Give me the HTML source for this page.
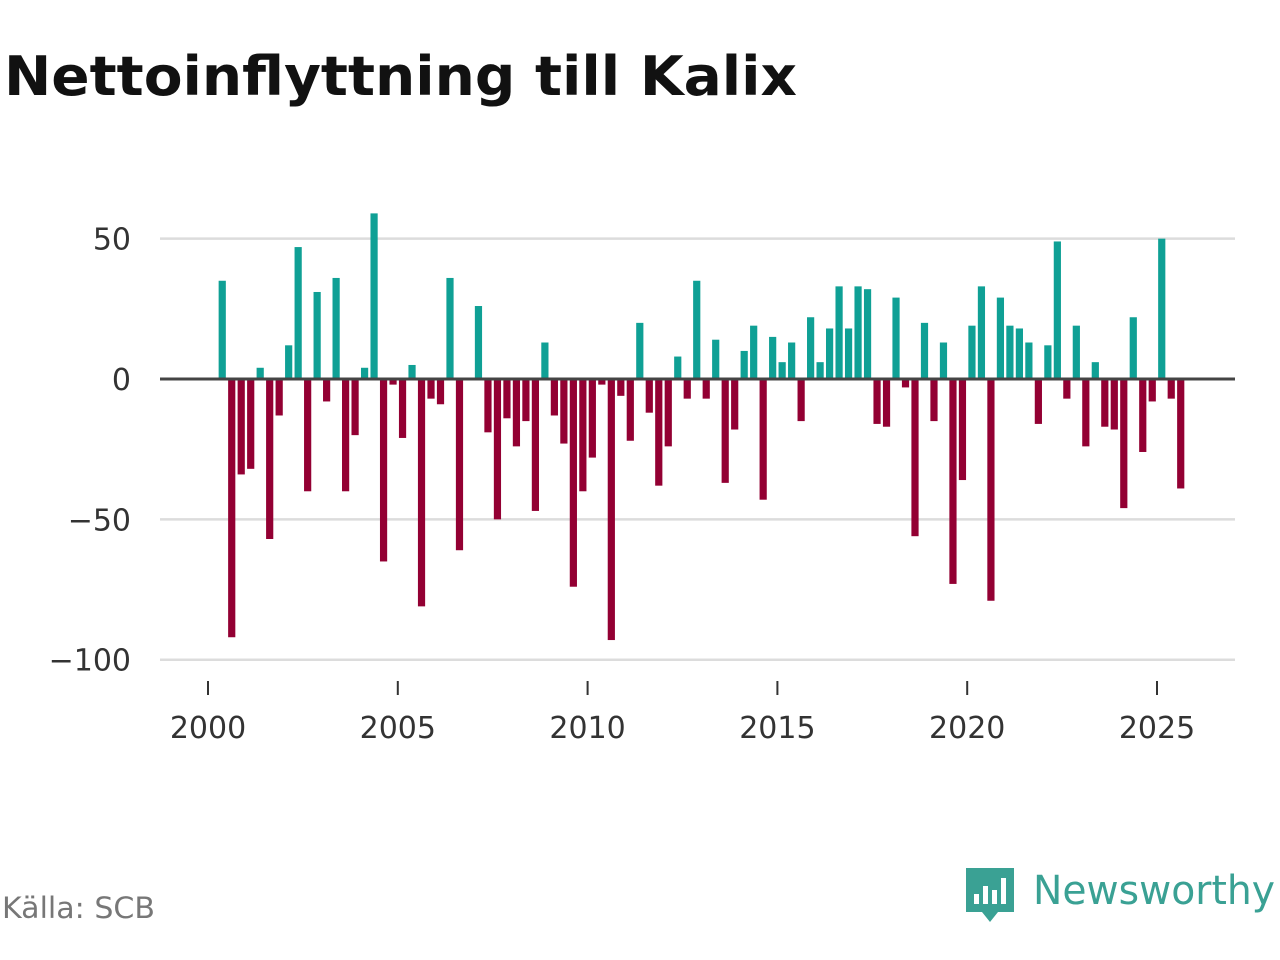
<!DOCTYPE html>
<html><head><meta charset="utf-8"><style>
body{margin:0;background:#fff;font-family:"DejaVu Sans","Liberation Sans",sans-serif;}
#wrap{position:relative;width:1280px;height:960px;overflow:hidden;}
</style></head><body>
<div id="wrap">
<svg width="1280" height="960">
<text x="4" y="95" font-size="54" font-weight="bold" fill="#111" textLength="793" lengthAdjust="spacingAndGlyphs">Nettoinflyttning till Kalix</text>
<g id="grid"></g><g id="bars"></g><g id="axes"></g>
<text x="2" y="918" font-size="29" fill="#777" textLength="153" lengthAdjust="spacingAndGlyphs">Källa: SCB</text>
<g>
<path d="M966 868 h48 v44 h-16 l-8 10 l-8 -10 h-16 z" fill="#3aa194"/>
<rect x="974" y="894" width="5" height="10" fill="#fff"/><rect x="983" y="886" width="5" height="18" fill="#fff"/><rect x="992" y="890" width="5" height="14" fill="#fff"/><rect x="1001" y="878" width="5" height="26" fill="#fff"/>
<text x="1033" y="904" font-size="40" fill="#3aa194" textLength="242" lengthAdjust="spacingAndGlyphs">Newsworthy</text>
</g>
</svg>
</div>
<script>
const startYear = 2000.375;
const values = [35,-92,-34,-32,4,-57,-13,12,47,-40,31,-8,36,-40,-20,4,59,-65,-2,-21,5,-81,-7,-9,36,-61,0,26,-19,-50,-14,-24,-15,-47,13,-13,-23,-74,-40,-28,-2,-93,-6,-22,20,-12,-38,-24,8,-7,35,-7,14,-37,-18,10,19,-43,15,6,13,-15,22,6,18,33,18,33,32,-16,-17,29,-3,-56,20,-15,13,-73,-36,19,33,-79,29,19,18,13,-16,12,49,-7,19,-24,6,-17,-18,-46,22,-26,-8,50,-7,-39];
const yTicks = [50,0,-50,-100];
const yTickLabels = ["50","0","−50","−100"];
const xTicks = [2000,2005,2010,2015,2020,2025];
const NS="http://www.w3.org/2000/svg";
const xs = y => 208 + (y-2000)*37.96;
const ys = v => 379 - v*2.807;
function mk(tag,attrs,parent){const e=document.createElementNS(NS,tag);for(const k in attrs)e.setAttribute(k,attrs[k]);parent.appendChild(e);return e;}
const grid=document.getElementById('grid'),bars=document.getElementById('bars'),axes=document.getElementById('axes');
yTicks.forEach((t,i)=>{
  if(t!==0){const l=mk('line',{x1:160,x2:1235,y1:ys(t),y2:ys(t),stroke:'#dcdcdc','stroke-width':2.5},grid);
  
  }
  const tx=mk('text',{x:131,y:ys(t)+11,'text-anchor':'end','font-size':30,fill:'#333'},axes);
  tx.textContent=yTickLabels[i];
  
  
});
values.forEach((v,i)=>{
  const cx=xs(startYear+i*0.25);
  const r=mk('rect',{x:cx-3.6,width:7.2,y:Math.min(ys(v),ys(0)),height:Math.abs(ys(v)-ys(0)),fill:v>=0?'#0fa095':'#930033'},bars);
  
  
});
const z=mk('line',{x1:160,x2:1235,y1:ys(0),y2:ys(0),stroke:'#444','stroke-width':3},axes);


xTicks.forEach(t=>{
  const l=mk('line',{x1:xs(t),x2:xs(t),y1:681,y2:695,stroke:'#333','stroke-width':2},axes);
  
  
  const tx=mk('text',{x:xs(t),y:738,'text-anchor':'middle','font-size':30,fill:'#333'},axes);
  tx.textContent=t;
  
  
});
</script>
</body></html>
